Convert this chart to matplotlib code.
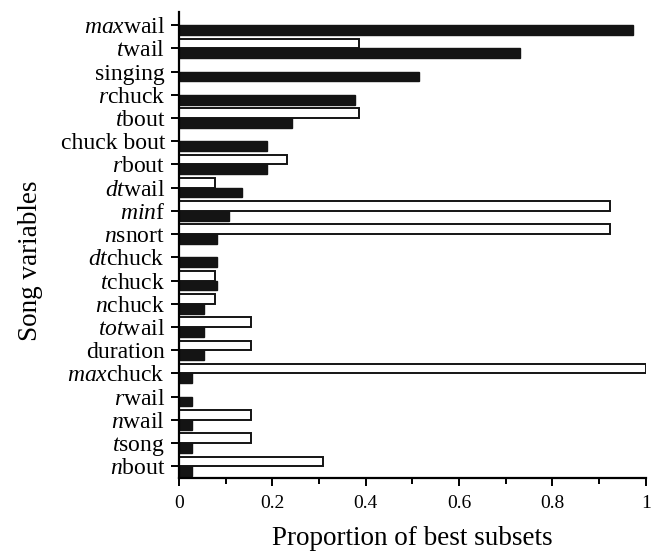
import matplotlib
matplotlib.use("Agg")
import matplotlib.pyplot as plt
import numpy as np

plt.rcParams["font.family"] = "Liberation Serif"
plt.rcParams["mathtext.fontset"] = "custom"
plt.rcParams["mathtext.rm"] = "Liberation Serif"
plt.rcParams["mathtext.it"] = "Liberation Serif:italic"

# Song variables, top to bottom; italic prefixes via mathtext
LABELS = [r"$max\mathrm{wail}$", r"$t\mathrm{wail}$", "singing",
          r"$r\mathrm{chuck}$", r"$t\mathrm{bout}$", "chuck bout",
          r"$r\mathrm{bout}$", r"$dt\mathrm{wail}$", r"$min\mathrm{f}$",
          r"$n\mathrm{snort}$", r"$dt\mathrm{chuck}$", r"$t\mathrm{chuck}$",
          r"$n\mathrm{chuck}$", r"$tot\mathrm{wail}$", "duration",
          r"$max\mathrm{chuck}$", r"$r\mathrm{wail}$", r"$n\mathrm{wail}$",
          r"$t\mathrm{song}$", r"$n\mathrm{bout}$"]

# proportion of best subsets (filled bars)
BLACK = [0.973, 0.730, 0.514, 0.378, 0.243, 0.189, 0.189, 0.135, 0.108, 0.081,
         0.081, 0.081, 0.054, 0.054, 0.054, 0.027, 0.027, 0.027, 0.027, 0.027]
# proportion of best subsets (open bars)
WHITE = [0.0, 0.385, 0.0, 0.0, 0.385, 0.0, 0.231, 0.077, 0.923, 0.923,
         0.0, 0.077, 0.077, 0.154, 0.154, 1.0, 0.0, 0.154, 0.154, 0.308]

XTICKS = [0, 0.2, 0.4, 0.6, 0.8, 1.0]
XTICKLABELS = ["0", "0.2", "0.4", "0.6", "0.8", "1"]

fig = plt.figure(figsize=(6.57, 5.51), dpi=100)
ax = fig.add_axes([0.2725, 0.1325, 0.7105, 0.845])

y = np.arange(len(LABELS))
h = 0.42
ax.barh(y + h / 2, BLACK, height=h, color="#141414", edgecolor="#141414",
        linewidth=1.0)
white_y = [yy - h / 2 for yy, w in zip(y, WHITE) if w > 0]
white_v = [w for w in WHITE if w > 0]
ax.barh(white_y, white_v, height=h, color="white", edgecolor="#141414",
        linewidth=1.4)

ax.set_ylim(19.5, -0.55)
ax.set_xlim(0, 1.0)
ax.set_yticks(y)
ax.set_yticklabels(LABELS, fontsize=17)
ax.set_xticks(XTICKS)
ax.set_xticklabels(XTICKLABELS, fontsize=14)
ax.set_xticks(np.arange(0.1, 1.0, 0.2), minor=True)

for s in ("top", "right"):
    ax.spines[s].set_visible(False)
for s in ("left", "bottom"):
    ax.spines[s].set_linewidth(1.6)

ax.tick_params(axis="y", length=6, width=1.4, pad=4)
ax.tick_params(axis="x", which="major", length=6, width=1.4, pad=6)
ax.tick_params(axis="x", which="minor", length=4, width=1.4)

ax.set_xlabel("Proportion of best subsets", fontsize=19.5, labelpad=10)
ax.set_ylabel("Song variables", fontsize=19.5, va="center")
ax.yaxis.set_label_coords(-0.319, 0.467)

fig.savefig("out.png", dpi=100)
